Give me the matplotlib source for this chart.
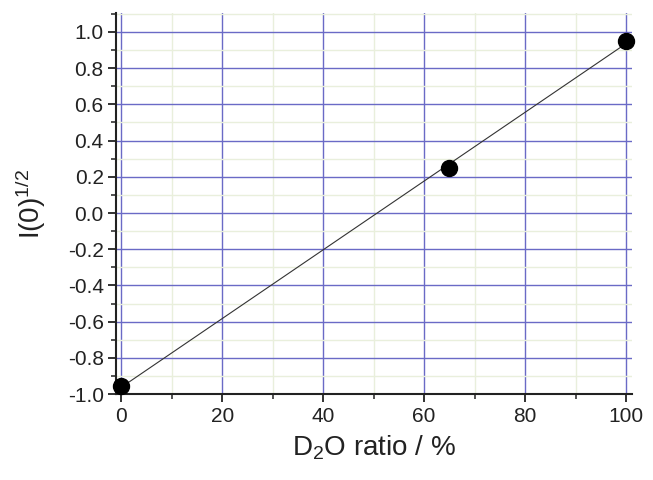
"""Contrast variation: sqrt of forward scattering vs D2O ratio."""

import numpy as np
import matplotlib.pyplot as plt
from matplotlib.ticker import MultipleLocator

plt.rcParams["font.family"] = ["Liberation Sans", "DejaVu Sans"]
plt.rcParams["mathtext.fontset"] = "custom"
plt.rcParams["mathtext.rm"] = "Liberation Sans"
plt.rcParams["mathtext.it"] = "Liberation Sans:italic"

# data
d2o_ratio = [0, 65, 100]
sqrt_i0 = [-0.955, 0.25, 0.95]
y_ticks = [-1.0, -0.8, -0.6, -0.4, -0.2, 0.0, 0.2, 0.4, 0.6, 0.8, 1.0]

MAJOR_GRID = "#6a6ac6"
MINOR_GRID = "#e9efdc"

fig = plt.figure(figsize=(6.53, 4.8), dpi=100)
ax = fig.add_axes([0.178, 0.179, 0.790, 0.794])

# linear fit through the points
slope, icpt = np.polyfit(d2o_ratio, sqrt_i0, 1)
xs = np.array([min(d2o_ratio), max(d2o_ratio)])
ax.plot(xs, slope * xs + icpt, color="#333333", lw=0.8, zorder=3)
ax.plot(d2o_ratio, sqrt_i0, "o", color="black", ms=11.5, zorder=4, clip_on=False)

ax.set_xlim(-1, 101.2)
ax.set_ylim(-1.0, 1.105)
ax.xaxis.set_major_locator(MultipleLocator(20))
ax.xaxis.set_minor_locator(MultipleLocator(10))
ax.yaxis.set_minor_locator(MultipleLocator(0.1))
ax.set_yticks(y_ticks)
ax.set_yticklabels([f"{v:.1f}" for v in y_ticks])

ax.grid(which="major", color=MAJOR_GRID, lw=1.0, zorder=1)
ax.grid(which="minor", color=MINOR_GRID, lw=1.0, zorder=0)
ax.set_axisbelow(True)

for side in ("top", "right"):
    ax.spines[side].set_visible(False)
for side in ("left", "bottom"):
    ax.spines[side].set_linewidth(1.5)
    ax.spines[side].set_color("#222222")

ax.tick_params(which="major", direction="out", length=6, width=1.3,
               labelsize=15, colors="#222222", pad=3)
ax.tick_params(which="minor", direction="out", length=3.5, width=1.1,
               colors="#222222")

ax.set_xlabel("D$_2$O ratio / %", fontsize=20, color="#222222", labelpad=6)
ax.set_ylabel("I(0)$^{1/2}$", fontsize=20, color="#222222", labelpad=14)

fig.savefig("out.png", dpi=100, facecolor="white")
